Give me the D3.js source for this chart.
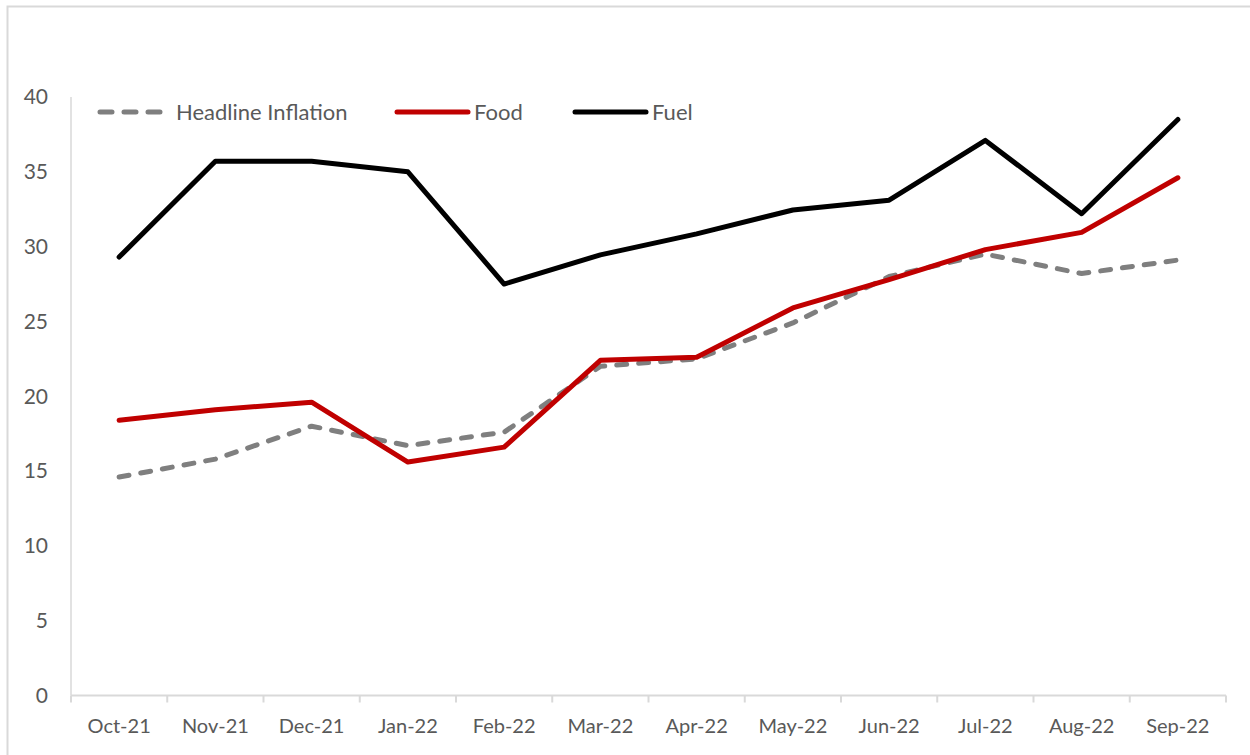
<!DOCTYPE html>
<html>
<head>
<meta charset="utf-8">
<script src="https://cdn.jsdelivr.net/npm/d3@7"></script>
<style>
  body { margin: 0; background: #fff; }
  text { font-family: Lato, "Open Sans", sans-serif; fill: #595959; }
</style>
</head>
<body>
<svg width="1250" height="755"></svg>
<script>
var months = ['Oct-21', 'Nov-21', 'Dec-21', 'Jan-22', 'Feb-22', 'Mar-22',
    'Apr-22', 'May-22', 'Jun-22', 'Jul-22', 'Aug-22', 'Sep-22'];
var headline = [14.6, 15.8, 18.0, 16.7, 17.6, 22.0, 22.5, 24.9, 28.0, 29.5, 28.2, 29.1];
var food = [18.4, 19.1, 19.6, 15.6, 16.6, 22.4, 22.6, 25.9, 27.8, 29.8, 30.95, 34.6];
var fuel = [29.3, 35.7, 35.7, 35.0, 27.5, 29.45, 30.85, 32.45, 33.1, 37.1, 32.2, 38.5];
var yTicks = [0, 5, 10, 15, 20, 25, 30, 35, 40];

var svg = d3.select('svg');

// chart frame (only top and left edges fall inside the picture)
svg.append('rect')
    .attr('x', 7.5)
    .attr('y', 6.5)
    .attr('width', 1300)
    .attr('height', 800)
    .attr('fill', 'none')
    .attr('stroke', '#d9d9d9')
    .attr('stroke-width', 2);

var plotLeft = 71, plotRight = 1226, plotTop = 97, plotBottom = 695.5;

var x = d3.scaleBand()
    .domain(months)
    .range([plotLeft, plotRight]);

var y = d3.scaleLinear()
    .domain([0, 40])
    .range([plotBottom, plotTop]);

// y axis line and labels
svg.append('line')
    .attr('x1', plotLeft).attr('x2', plotLeft)
    .attr('y1', plotTop).attr('y2', plotBottom)
    .attr('stroke', '#d9d9d9')
    .attr('stroke-width', 1.5);

svg.selectAll('.ylab')
    .data(yTicks)
    .enter()
    .append('text')
    .attr('class', 'ylab')
    .attr('x', 48)
    .attr('y', function(d){ return y(d); })
    .attr('dy', '0.35em')
    .attr('text-anchor', 'end')
    .attr('font-size', 21)
    .text(function(d){ return d; });

// x axis
var xAxis = svg.append('g')
    .attr('transform', 'translate(0,' + plotBottom + ')');

xAxis.append('line')
    .attr('x1', plotLeft).attr('x2', plotRight)
    .attr('stroke', '#d9d9d9')
    .attr('stroke-width', 2);

var bounds = months.map(function(m){ return x(m); }).concat([plotRight]);
xAxis.selectAll('.xtick')
    .data(bounds)
    .enter()
    .append('line')
    .attr('class', 'xtick')
    .attr('x1', function(d){ return d; })
    .attr('x2', function(d){ return d; })
    .attr('y1', 0)
    .attr('y2', 7)
    .attr('stroke', '#d9d9d9')
    .attr('stroke-width', 2);

svg.selectAll('.xlab')
    .data(months)
    .enter()
    .append('text')
    .attr('class', 'xlab')
    .attr('x', function(d){ return x(d) + x.bandwidth() / 2; })
    .attr('y', 726)
    .attr('dy', '0.35em')
    .attr('text-anchor', 'middle')
    .attr('font-size', 20)
    .text(function(d){ return d; });

// lines
var lineFunction = d3.line()
    .x(function(d, i){ return x(months[i]) + x.bandwidth() / 2; })
    .y(function(d){ return y(d); });

var series = [
    {name: 'Headline Inflation', values: headline, color: '#7f7f7f', dash: '10,12'},
    {name: 'Food', values: food, color: '#c00000', dash: null},
    {name: 'Fuel', values: fuel, color: '#000000', dash: null}
];

series.forEach(function(s){
    svg.append('path')
        .datum(s.values)
        .attr('d', lineFunction)
        .attr('fill', 'none')
        .attr('stroke', s.color)
        .attr('stroke-width', 5)
        .attr('stroke-linecap', 'round')
        .attr('stroke-linejoin', 'round')
        .attr('stroke-dasharray', s.dash);
});

// legend
var legendX = [100, 397, 575];
var legend = svg.selectAll('.legend')
    .data(series)
    .enter()
    .append('g')
    .attr('class', 'legend')
    .attr('transform', function(d, i){ return 'translate(' + legendX[i] + ',112)'; });

legend.append('line')
    .attr('x1', 0).attr('x2', function(d, i){ return i === 0 ? 63 : 71; })
    .attr('stroke', function(d){ return d.color; })
    .attr('stroke-width', 5)
    .attr('stroke-linecap', 'round')
    .attr('stroke-dasharray', function(d){ return d.dash ? '12,12' : null; });

legend.append('text')
    .attr('x', function(d, i){ return i === 0 ? 76 : 77; })
    .attr('dy', '0.35em')
    .attr('font-size', 22)
    .text(function(d){ return d.name; });
</script>
</body>
</html>
